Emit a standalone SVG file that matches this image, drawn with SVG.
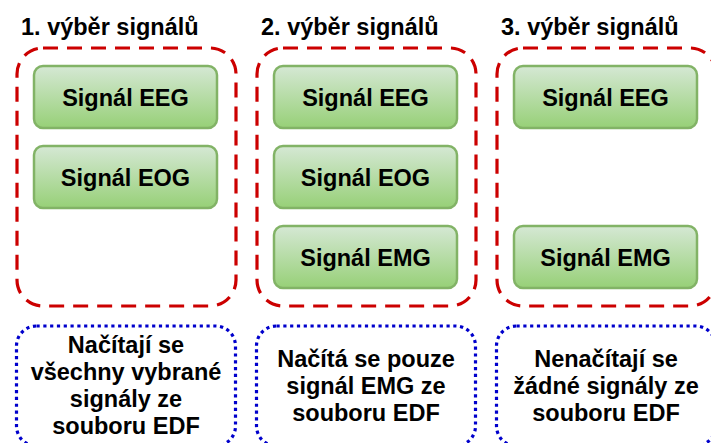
<svg xmlns="http://www.w3.org/2000/svg" width="711" height="443" viewBox="0 0 711 443">
  <defs>
    <linearGradient id="greenFill" x1="0" y1="0" x2="0" y2="1">
      <stop offset="0" stop-color="#d5e8d4"/>
      <stop offset="1" stop-color="#97d077"/>
    </linearGradient>
  </defs>
  <style>
    text { font-family: "Liberation Sans", Arial, Helvetica, sans-serif; font-weight: bold; fill: #000000; }
    .title { font-size: 23.5px; }
    .sig { font-size: 23.5px; text-anchor: middle; }
    .note { font-size: 23.5px; text-anchor: middle; }
    .group { fill: none; stroke: #cc0000; stroke-width: 3.2; stroke-dasharray: 15 9; }
    .signal { fill: url(#greenFill); stroke: #82b366; stroke-width: 2.5; }
    .info { fill: none; stroke: #0000cc; stroke-width: 3.2; stroke-dasharray: 3.2 3.6; }
  </style>
  <rect width="711" height="443" fill="#ffffff"/>

  <!-- selection 1 -->
  <g id="selection1">
    <text class="title" x="21" y="35">1. výběr signálů</text>
    <rect class="group" x="17" y="48" width="219" height="258" rx="26"/>
  </g>
  <g id="sel1-eeg">
    <rect class="signal" x="34" y="66" width="183" height="62" rx="9"/>
    <text class="sig" x="125.5" y="105.5">Signál EEG</text>
  </g>
  <g id="sel1-eog">
    <rect class="signal" x="34" y="146" width="183" height="62" rx="9"/>
    <text class="sig" x="125.5" y="185.5">Signál EOG</text>
  </g>
  <g id="note1">
    <rect class="info" x="16.5" y="326" width="219" height="120" rx="20"/>
    <text class="note" x="126" y="353">Načítají se</text>
    <text class="note" x="126" y="380">všechny vybrané</text>
    <text class="note" x="126" y="407">signály ze</text>
    <text class="note" x="126" y="434">souboru EDF</text>
  </g>

  <!-- selection 2 -->
  <g id="selection2">
    <text class="title" x="261" y="35">2. výběr signálů</text>
    <rect class="group" x="257" y="48" width="219" height="258" rx="26"/>
  </g>
  <g id="sel2-eeg">
    <rect class="signal" x="274" y="66" width="183" height="62" rx="9"/>
    <text class="sig" x="365.5" y="105.5">Signál EEG</text>
  </g>
  <g id="sel2-eog">
    <rect class="signal" x="274" y="146" width="183" height="62" rx="9"/>
    <text class="sig" x="365.5" y="185.5">Signál EOG</text>
  </g>
  <g id="sel2-emg">
    <rect class="signal" x="274" y="226" width="183" height="62" rx="9"/>
    <text class="sig" x="365.5" y="265.5">Signál EMG</text>
  </g>
  <g id="note2">
    <rect class="info" x="256.5" y="326" width="219" height="120" rx="20"/>
    <text class="note" x="366" y="367">Načítá se pouze</text>
    <text class="note" x="366" y="394">signál EMG ze</text>
    <text class="note" x="366" y="421">souboru EDF</text>
  </g>

  <!-- selection 3 -->
  <g id="selection3">
    <text class="title" x="501" y="35">3. výběr signálů</text>
    <rect class="group" x="497" y="48" width="219" height="258" rx="26"/>
  </g>
  <g id="sel3-eeg">
    <rect class="signal" x="514" y="66" width="183" height="62" rx="9"/>
    <text class="sig" x="605.5" y="105.5">Signál EEG</text>
  </g>
  <g id="sel3-emg">
    <rect class="signal" x="514" y="226" width="183" height="62" rx="9"/>
    <text class="sig" x="605.5" y="265.5">Signál EMG</text>
  </g>
  <g id="note3">
    <rect class="info" x="496.5" y="326" width="219" height="120" rx="20"/>
    <text class="note" x="606" y="367">Nenačítají se</text>
    <text class="note" x="606" y="394">žádné signály ze</text>
    <text class="note" x="606" y="421">souboru EDF</text>
  </g>

  <!-- no connectors between the nodes -->
  <g id="connectors"/>
</svg>
